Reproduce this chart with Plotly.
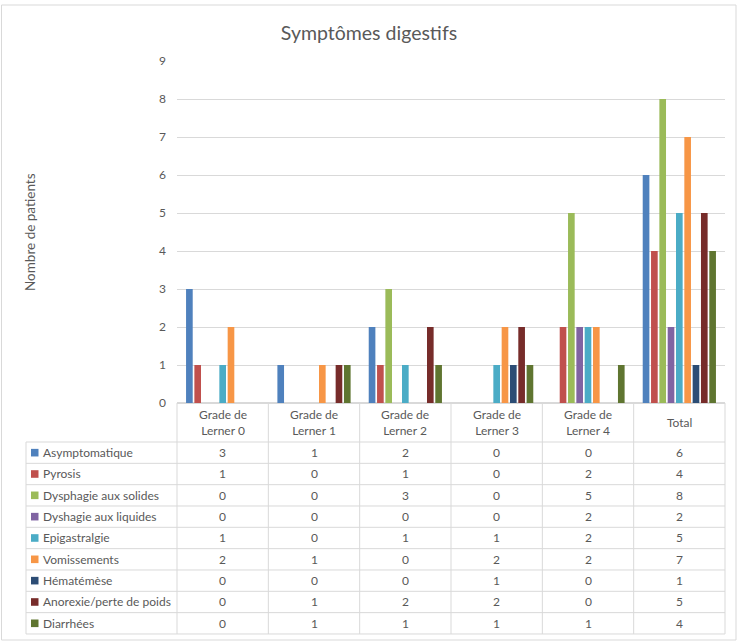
import plotly.graph_objects as go

title = "Symptômes digestifs"
y_title = "Nombre de patients"
categories = ["Grade de Lerner 0", "Grade de Lerner 1", "Grade de Lerner 2",
              "Grade de Lerner 3", "Grade de Lerner 4", "Total"]
header_labels = ["Grade de<br>Lerner 0", "Grade de<br>Lerner 1", "Grade de<br>Lerner 2",
                 "Grade de<br>Lerner 3", "Grade de<br>Lerner 4", "Total"]
series_names = ["Asymptomatique", "Pyrosis", "Dysphagie aux solides",
                "Dyshagie aux liquides", "Epigastralgie", "Vomissements",
                "Hématémèse", "Anorexie/perte de poids", "Diarrhées"]
asymptomatique = [3, 1, 2, 0, 0, 6]
pyrosis = [1, 0, 1, 0, 2, 4]
dysphagie_solides = [0, 0, 3, 0, 5, 8]
dysphagie_liquides = [0, 0, 0, 0, 2, 2]
epigastralgie = [1, 0, 1, 1, 2, 5]
vomissements = [2, 1, 0, 2, 2, 7]
hematemese = [0, 0, 0, 1, 0, 1]
anorexie = [0, 1, 2, 2, 0, 5]
diarrhees = [0, 1, 1, 1, 1, 4]
series_values = [asymptomatique, pyrosis, dysphagie_solides, dysphagie_liquides,
                 epigastralgie, vomissements, hematemese, anorexie, diarrhees]
colors = ["#4F81BD", "#C0504D", "#9BBB59", "#8064A2", "#4BACC6",
          "#F79646", "#2C4D75", "#772C2A", "#5F7530"]

W, H = 738, 642
L, R, T, B = 177, 725, 61, 403
pw, ph = R - L, B - T
FONT = "Lato"
TXT = "#595959"
GRID = "#D9D9D9"
FS = 12


def px_x(x):
    return (x - L) / pw


def px_y(y):
    return (B - y) / ph


fig = go.Figure()
for name, vals, col in zip(series_names, series_values, colors):
    fig.add_trace(go.Bar(x=categories, y=vals, name=name, marker_color=col,
                         marker_line_width=0))

shapes = []
annotations = []

# table geometry
tbl_left = 26
hdr_bottom = 442
row_h = 21.33
n_rows = len(series_names)
tbl_bottom = hdr_bottom + row_h * n_rows

# horizontal lines
for i in range(n_rows + 1):
    yy = hdr_bottom + row_h * i
    shapes.append(dict(type="line", xref="paper", yref="paper",
                       x0=px_x(tbl_left), x1=1, y0=px_y(yy), y1=px_y(yy),
                       line=dict(color=GRID, width=1)))
# vertical lines
ncat = len(categories)
for j in range(ncat + 1):
    xp = j / ncat
    shapes.append(dict(type="line", xref="paper", yref="paper",
                       x0=xp, x1=xp, y0=px_y(B), y1=px_y(tbl_bottom),
                       line=dict(color=GRID, width=1)))
shapes.append(dict(type="line", xref="paper", yref="paper",
                   x0=px_x(tbl_left), x1=px_x(tbl_left),
                   y0=px_y(hdr_bottom), y1=px_y(tbl_bottom),
                   line=dict(color=GRID, width=1)))
# outer border
shapes.append(dict(type="rect", xref="paper", yref="paper",
                   x0=px_x(1.5), x1=px_x(736), y0=px_y(640), y1=px_y(5),
                   line=dict(color=GRID, width=1), layer="below"))

# header annotations
for cat, lab in zip(categories, header_labels):
    annotations.append(dict(x=cat, xref="x", y=px_y((B + hdr_bottom) / 2), yref="paper",
                            text=lab, showarrow=False,
                            font=dict(family=FONT, size=FS, color=TXT),
                            xanchor="center", yanchor="middle"))

# rows
for i, (name, vals, col) in enumerate(zip(series_names, series_values, colors)):
    yc = hdr_bottom + row_h * (i + 0.5)
    shapes.append(dict(type="rect", xref="paper", yref="paper",
                       x0=px_x(31), x1=px_x(38.5), y0=px_y(yc + 3.8), y1=px_y(yc - 3.8),
                       fillcolor=col, line=dict(width=0)))
    annotations.append(dict(x=px_x(41), xref="paper", y=px_y(yc), yref="paper",
                            text=name, showarrow=False,
                            font=dict(family=FONT, size=FS, color=TXT),
                            xanchor="left", yanchor="middle"))
    for cat, v in zip(categories, vals):
        annotations.append(dict(x=cat, xref="x", y=px_y(yc), yref="paper",
                                text=str(v), showarrow=False,
                                font=dict(family=FONT, size=FS, color=TXT),
                                xanchor="center", yanchor="middle"))

annotations.append(dict(x=px_x(30), xref="paper", y=0.5, yref="paper",
                        text=y_title, textangle=-90, showarrow=False,
                        font=dict(family=FONT, size=13.5, color=TXT),
                        xanchor="center", yanchor="middle"))

fig.update_layout(
    width=W, height=H,
    margin=dict(l=L, r=W - R, t=T, b=H - B, pad=0),
    paper_bgcolor="white", plot_bgcolor="white",
    title=dict(text=title, x=0.5, xanchor="center",
               y=1 - 33 / H, yref="container", yanchor="middle",
               font=dict(family=FONT, size=19.5, color=TXT)),
    showlegend=False,
    barmode="group", bargap=0.18, bargroupgap=0.2,
    xaxis=dict(showticklabels=False, showgrid=False, zeroline=False,
               showline=False, ticks=""),
    yaxis=dict(range=[0, 9], dtick=1, showgrid=True, gridcolor=GRID, gridwidth=1,
               zeroline=True, zerolinecolor=GRID, showline=False,
               ticks="", ticklabelstandoff=10,
               tickfont=dict(family=FONT, size=FS, color=TXT)),
    shapes=shapes, annotations=annotations,
    font=dict(family=FONT),
)
fig.update_layout(title_xref="container")

fig.write_html("out.html")
